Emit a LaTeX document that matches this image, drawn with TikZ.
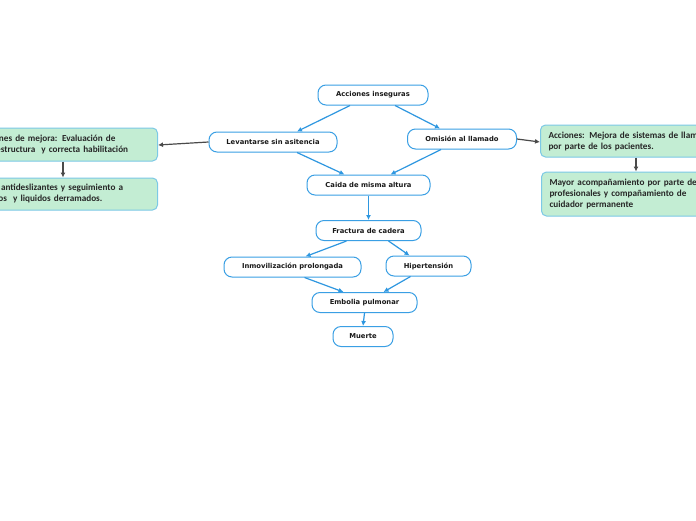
\documentclass[tikz,border=0pt]{standalone}
\usepackage{fontspec}
\newfontfamily\cfont{DejaVu Sans}
\newfontfamily\gfont{Carlito}
\usetikzlibrary{arrows.meta}
\definecolor{nodeblue}{HTML}{3A9FE4}
\definecolor{linkblue}{HTML}{2E97E0}
\definecolor{gfill}{HTML}{C3EDD3}
\definecolor{gborder}{HTML}{7CC9E6}
\definecolor{garrow}{HTML}{4A4A4A}
\tikzset{
  cnode/.style={draw=nodeblue, line width=1pt, fill=white, rounded corners=8pt,
    minimum height=20pt, inner sep=2pt, font=\cfont\bfseries\fontsize{6.8}{8}\selectfont, text=black!90},
  gnode/.style={draw=gborder, line width=1pt, fill=gfill, rounded corners=5pt,
    inner xsep=7pt, inner ysep=3pt, align=left, font=\gfont\bfseries\fontsize{9.2}{11}\selectfont, text=black!85},
  blink/.style={draw=linkblue, line width=1.2pt, -{Latex[length=5pt,width=5pt]}},
  glink/.style={draw=garrow, line width=1.2pt, -{Latex[length=5pt,width=5pt]}}
}
\begin{document}
\begin{tikzpicture}[x=1pt,y=-1pt]
\useasboundingbox (0,0) rectangle (696,520);
\clip (0,0) rectangle (696,520);
\fill[white] (0,0) rectangle (696,520);

\node[cnode, minimum width=110pt] (acc) at (373,95) {Acciones inseguras};
\node[cnode, minimum width=128pt] (lev) at (273,142) {Levantarse sin asitencia};
\node[cnode, minimum width=109pt] (omi) at (462,139) {Omisión al llamado};
\node[cnode, minimum width=123pt] (cai) at (368.5,185) {Caida de misma altura};
\node[cnode, minimum width=105pt] (fra) at (368.5,230.5) {Fractura de cadera};
\node[cnode, minimum width=137pt] (inm) at (292.5,267) {Inmovilización prolongada};
\node[cnode, minimum width=85pt] (hip) at (428.5,266) {Hipertensión};
\node[cnode, minimum width=105pt] (emb) at (364.5,302.5) {Embolia pulmonar};
\node[cnode, minimum width=60pt] (mue) at (363,336.5) {Muerte};

\node[gnode, text width=172pt, minimum height=33pt, anchor=east] (lt) at (158,144.5)
  {Acciones de mejora: Evaluación de\\infraestructura\ \ y correcta habilitación};
\node[gnode, text width=172pt, minimum height=32pt, anchor=east] (lb) at (158,194)
  {Pisos antideslizantes y seguimiento a\\objetos\ \ y liquidos derramados.};
\node[gnode, inner xsep=8pt, text width=200pt, minimum height=32pt, anchor=west] (rt) at (540,141)
  {Acciones: Mejora de sistemas de llamado\\por parte de los pacientes.};
\node[gnode, inner xsep=8pt, text width=200pt, minimum height=44pt, anchor=west] (rb) at (541,194)
  {Mayor acompañamiento por parte del\\profesionales y compañamiento de\\cuidador permanente};

\draw[blink] ([xshift=-23pt]acc.south) -- ([xshift=24pt]lev.north);
\draw[blink] ([xshift=22pt]acc.south) -- ([xshift=-22pt]omi.north);
\draw[blink] ([xshift=24pt]lev.south) -- ([xshift=-24pt]cai.north);
\draw[blink] ([xshift=-21pt]omi.south) -- ([xshift=22pt]cai.north);
\draw[blink] (cai.south) -- (fra.north);
\draw[blink] ([xshift=-22pt]fra.south) -- ([xshift=13pt]inm.north);
\draw[blink] ([xshift=20pt]fra.south) -- ([xshift=-19pt]hip.north);
\draw[blink] ([xshift=12pt]inm.south) -- ([xshift=-21pt]emb.north);
\draw[blink] ([xshift=-18pt]hip.south) -- ([xshift=19pt]emb.north);
\draw[blink] (emb.south) -- (mue.north);

\draw[glink] (lev.west) -- ([yshift=-0.5pt]lt.east);
\draw[glink] (omi.east) -- ([yshift=-1pt]rt.west);
\draw[glink] (lt.south -| 63,0) -- (lb.north -| 63,0);
\draw[glink] (rt.south -| 636,0) -- (rb.north -| 636,0);
\end{tikzpicture}
\end{document}
